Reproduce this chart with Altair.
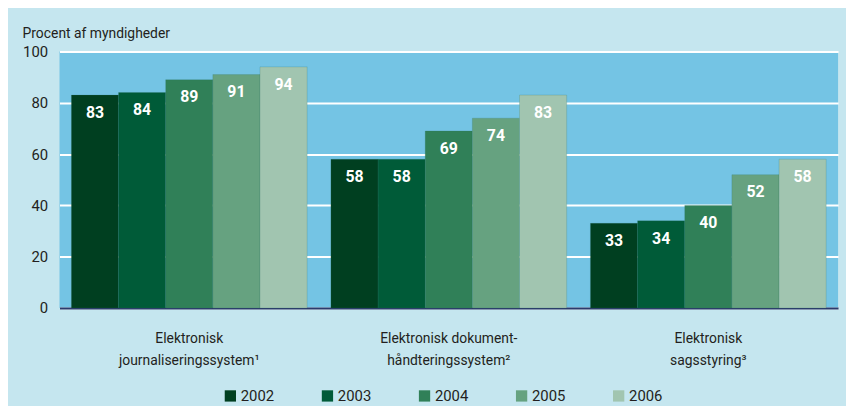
import altair as alt
import pandas as pd

categories = ["Elektronisk\njournaliseringssystem¹",
              "Elektronisk dokument-\nhåndteringssystem²",
              "Elektronisk\nsagsstyring³"]
years = ["2002", "2003", "2004", "2005", "2006"]
values = {
    "2002": [83, 58, 33],
    "2003": [84, 58, 34],
    "2004": [89, 69, 40],
    "2005": [91, 74, 52],
    "2006": [94, 83, 58],
}
colors = ["#003f20", "#005b38", "#308058", "#66a280", "#a1c5b0"]

rows = []
for y in years:
    for c, v in zip(categories, values[y]):
        rows.append({"cat": c, "year": y, "value": v})
df = pd.DataFrame(rows)

FONT = "Roboto"

base = alt.Chart(df).encode(
    x=alt.X("cat:N", sort=categories,
            scale=alt.Scale(paddingInner=0.0916, paddingOuter=0.0458),
            axis=alt.Axis(title=None, labelAngle=0, ticks=False,
                          domain=True, domainColor="#2b3a6b", domainWidth=2,
                          labelExpr="split(datum.label, '\\n')",
                          labelFontSize=14, labelColor="#231f20",
                          labelPadding=24, labelLineHeight=22, labelLimit=300)),
    xOffset=alt.XOffset("year:N", sort=years, scale=alt.Scale(paddingInner=0, paddingOuter=0)),
    y=alt.Y("value:Q", scale=alt.Scale(domain=[0, 100]),
            axis=alt.Axis(title=None, values=[0, 20, 40, 60, 80, 100],
                          ticks=False, domain=False, grid=True,
                          gridColor="white", gridWidth=2,
                          labelFontSize=15, labelColor="#231f20",
                          labelPadding=12)),
)

bars = base.mark_bar(stroke="#2e6e60", strokeWidth=0.5, strokeOpacity=0.4).encode(
    color=alt.Color("year:N", sort=years,
                    scale=alt.Scale(domain=years, range=colors),
                    legend=alt.Legend(title=None, orient="none", direction="horizontal",
                                      legendX=165, legendY=340,
                                      symbolType="square", symbolSize=130,
                                      symbolStrokeWidth=0, symbolOpacity=1,
                                      labelFontSize=15, labelColor="#231f20",
                                      labelOffset=3, columnPadding=46,
                                      labelFont=FONT))
)

labels = base.mark_text(color="white", fontWeight="bold", fontSize=16,
                        baseline="top", dy=10, font=FONT).encode(
    text=alt.Text("value:Q")
)

chart = alt.layer(bars, labels).properties(
    width=786, height=259,
    title=alt.TitleParams("Procent af myndigheder", anchor="start", fontSize=14,
                          fontWeight="normal", color="#231f20", font=FONT, offset=4),
    background="#c5e6ef",
    padding={"left": 52, "top": 42, "right": 8, "bottom": 97},
    autosize=alt.AutoSizeParams(type="none"),
).configure_view(
    fill="#74c4e4", stroke=None
).configure_axis(
    labelFont=FONT
)

chart.save("out.html", embed_options={"renderer": "svg", "actions": False})
